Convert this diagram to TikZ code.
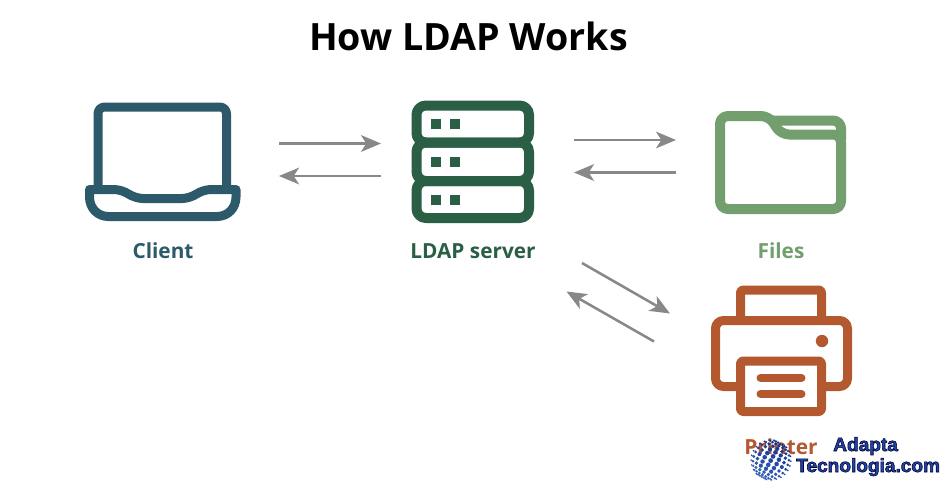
\documentclass[tikz,border=0pt]{standalone}
\usepackage{fontspec}
\setmainfont{Open Sans}
\newfontfamily\wmfont{Liberation Sans}
\usetikzlibrary{arrows.meta}
\definecolor{clientc}{HTML}{2D5A6B}
\definecolor{serverc}{HTML}{2A5E45}
\definecolor{filesc}{HTML}{739E6E}
\definecolor{printc}{HTML}{B3582F}
\definecolor{arrowc}{HTML}{888888}
\definecolor{globec}{HTML}{3A66C4}
\definecolor{globed}{HTML}{10308A}
\tikzset{
  icon/.style={line width=#1*0.75pt, line join=round, fill=none},
  flow/.style={draw=arrowc, line width=1.9pt, -{Stealth[length=15pt,width=12.5pt,inset=4pt]}},
  lab/.style={font=\fontsize{15.6pt}{18pt}\selectfont\bfseries, anchor=base},
  wm/.style={font=\wmfont\fontsize{14.3pt}{16pt}\selectfont\bfseries, anchor=base west, inner sep=0pt},
}
\newcommand{\outlined}[1]{\special{pdf:code q 2 Tr 0.45 w 0.12 0.27 0.66 rg 0 0 0.2 RG}#1\special{pdf:code Q}}
\begin{document}
\begin{tikzpicture}[x=0.75pt,y=-0.75pt]
\useasboundingbox (0,0) rectangle (950,490);
\fill[white] (0,0) rectangle (950,490);
% title
\node[anchor=base, font=\fontsize{28.2pt}{30pt}\selectfont\bfseries] (title) at (468.5,50.5) {How LDAP Works};
% laptop
\draw[icon=9,clientc,rounded corners=5pt] (98,189) -- (98,107) -- (226.5,107) -- (226.5,189);
\draw[icon=9,clientc] (89.5,189.5) [rounded corners=6pt] -- (122,189.5) -- (135,198.5) -- (190,198.5) -- (203,189.5) [sharp corners] -- (236,189.5) -- (236,197) .. controls (236,208) and (228,216.5) .. (217,216.5) -- (108.5,216.5) .. controls (97.5,216.5) and (89.5,208) .. (89.5,197) -- cycle;
\node[lab,text=clientc] (client) at (163,258.5) {Client};
% server
\foreach \t/\b in {105.5/142.5,142.5/181,181/218}{
  \draw[icon=10,serverc,rounded corners=7pt] (416.5,\t) rectangle (529,\b);
}
\foreach \y in {119,157,195}{
  \fill[serverc] (431,\y) rectangle ++(10,10);
  \fill[serverc] (450,\y) rectangle ++(10,10);
}
\node[lab,text=serverc] (server) at (473,258.5) {LDAP server};
% folder
\draw[icon=10,filesc,rounded corners=6pt] (720,209) -- (720,116) -- (769,116) -- (781,134.5) -- (841,134.5) -- (841,209) -- cycle;
\draw[icon=10,filesc,rounded corners=6pt] (773,120.5) -- (841,120.5) -- (841,140);
\node[lab,text=filesc] (files) at (781,258.5) {Files};
% printer
\draw[icon=9,printc,rounded corners=2pt] (740.5,320) -- (740.5,290) -- (821.5,290) -- (821.5,320);
\draw[icon=9,printc,rounded corners=6pt] (740.5,386.5) -- (715.5,386.5) -- (715.5,320.5) -- (847.5,320.5) -- (847.5,386.5) -- (821.5,386.5);
\draw[icon=9,printc,rounded corners=2pt] (740.5,361) rectangle (821.5,411.5);
\draw[printc,line width=6pt,line cap=round] (760.5,378) -- (801.5,378);
\draw[printc,line width=6pt,line cap=round] (760.5,394) -- (801.5,394);
\fill[printc] (822,341) circle[radius=6.2];
\node[lab,text=printc] (printer) at (781,454) {Printer};
% arrows
\coordinate (a1s) at (279,143.5); \coordinate (a1e) at (381,143.5);
\coordinate (a2s) at (381,176); \coordinate (a2e) at (279,176);
\coordinate (a3s) at (574,140); \coordinate (a3e) at (676,140);
\coordinate (a4s) at (676,172.5); \coordinate (a4e) at (574,172.5);
\coordinate (a5s) at (582,263); \coordinate (a5e) at (670,313.5);
\coordinate (a6s) at (654,341.5); \coordinate (a6e) at (566.5,291.5);
\foreach \n in {a1,a2,a3,a4,a5,a6}{ \draw[flow] (\n s) -- (\n e); }
% watermark globe
\foreach \lat in {-72,-58,...,70}{
  \foreach \lon in {-80,-60,...,80}{
    \pgfmathsetmacro{\qx}{cos(\lat)*sin(\lon)}
    \pgfmathsetmacro{\qy}{sin(\lat)}
    \pgfmathsetmacro{\qz}{cos(\lat)*cos(\lon)}
    \pgfmathsetmacro{\px}{771+20*(0.87*\qx+0.5*\qy)}
    \pgfmathsetmacro{\py}{460-20*(-0.5*\qx+0.87*\qy)}
    \pgfmathsetmacro{\rr}{0.7+1.7*\qz}
    \pgfmathsetmacro{\mix}{int(max(0,min(100,45-45*\qy)))}
    \fill[globec!\mix!globed] (\px,\py) circle[radius=\rr];
  }
}
\node[wm] (wm1) at (833,451) {\outlined{Adapta}};
\node[wm] (wm2) at (796,472) {\outlined{Tecnologia.com}};
\end{tikzpicture}
\end{document}
